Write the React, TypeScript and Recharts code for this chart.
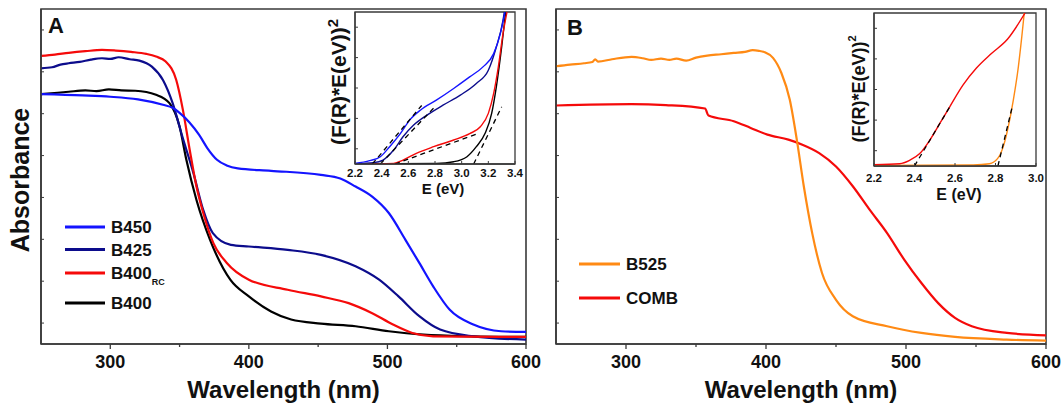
import React from 'react'
import { LineChart, Line, XAxis, YAxis, ReferenceArea } from 'recharts'

const FONT = '"Liberation Sans", Arial, Helvetica, sans-serif'
const AXIS = '#3a3a3a'
const INK = '#111'

const BLUE = '#1414ff'
const NAVY = '#0c0c8c'
const RED = '#f50a0a'
const BLACK = '#000'
const ORANGE = '#ff8a14'

// panel A: wavelength (nm) vs absorbance (a.u.)
const b450: [number, number][] = [
  [250, 0.746], [280, 0.742], [300, 0.738], [320, 0.73], [338, 0.714], [345, 0.705], [350, 0.69],
  [357, 0.662], [364, 0.625], [370, 0.585], [377, 0.55], [384, 0.533], [392, 0.524], [416, 0.517],
  [452, 0.505], [466, 0.494], [477, 0.47], [489, 0.44], [501, 0.391], [513, 0.311], [523, 0.242],
  [533, 0.172], [545, 0.102], [562, 0.058], [582, 0.038], [600, 0.036],
]
const b425: [number, number][] = [
  [250, 0.823], [258, 0.826], [264, 0.834], [270, 0.838], [278, 0.842], [286, 0.849], [294, 0.853],
  [300, 0.851], [306, 0.856], [314, 0.85], [321, 0.846], [330, 0.828], [338, 0.788], [345, 0.719],
  [352, 0.619], [360, 0.51], [367, 0.401], [374, 0.331], [387, 0.296], [400, 0.291], [428, 0.281],
  [452, 0.266], [477, 0.232], [494, 0.192], [508, 0.142], [523, 0.083], [538, 0.043], [562, 0.023],
  [600, 0.013],
]
const b400rc: [number, number][] = [
  [250, 0.86], [260, 0.864], [270, 0.869], [282, 0.874], [294, 0.878], [304, 0.876], [315, 0.872],
  [326, 0.866], [333, 0.858], [340, 0.843], [347.6, 0.788], [352.4, 0.699], [357.3, 0.58],
  [362.2, 0.47], [367.1, 0.391], [374.4, 0.301], [384.1, 0.242], [400, 0.192], [428, 0.162],
  [452, 0.142], [472, 0.122], [489, 0.092], [504, 0.058], [518, 0.033], [533, 0.023], [600, 0.021],
]
const b400: [number, number][] = [
  [250, 0.746], [262, 0.75], [270, 0.753], [282, 0.757], [290, 0.755], [299, 0.76], [308, 0.757],
  [318, 0.756], [333, 0.744], [342.7, 0.719], [350, 0.649], [354.9, 0.55], [362.2, 0.43],
  [372, 0.311], [386.6, 0.192], [400, 0.142], [416, 0.097], [430.5, 0.073], [452, 0.061],
  [477, 0.053], [501, 0.038], [526, 0.028], [562, 0.023], [600, 0.021],
]

// panel B
const b525: [number, number][] = [
  [250, 0.829], [260, 0.834], [270, 0.838], [276, 0.842], [278, 0.85], [280, 0.843], [290, 0.85],
  [304, 0.857], [312, 0.853], [318, 0.848], [325, 0.852], [331, 0.848], [336, 0.852], [343, 0.846],
  [350, 0.855], [358, 0.861], [368, 0.865], [377, 0.869], [385, 0.872], [390.5, 0.877], [395, 0.875],
  [399, 0.871], [405, 0.854], [411, 0.809], [417, 0.729], [422, 0.61], [427, 0.471], [433, 0.331],
  [440, 0.212], [450, 0.132], [462, 0.083], [486.5, 0.053], [511, 0.033], [535, 0.021], [572, 0.013],
  [600, 0.01],
]
const comb: [number, number][] = [
  [250, 0.712], [304, 0.716], [328.5, 0.713], [356.5, 0.703], [358.9, 0.682], [377, 0.665],
  [389, 0.645], [401, 0.625], [416, 0.61], [426, 0.595], [438, 0.57], [450, 0.53], [462, 0.471],
  [474, 0.401], [486.5, 0.331], [498.7, 0.252], [511, 0.182], [523, 0.122], [535, 0.078],
  [547, 0.053], [572, 0.033], [600, 0.026],
]

// inset A: E (eV) vs (F(R)*E)^2
const tB450: [number, number][] = [
  [2.2, 0.004], [2.31, 0.022], [2.39, 0.048], [2.46, 0.114], [2.54, 0.2], [2.61, 0.289],
  [2.69, 0.354], [2.81, 0.42], [2.94, 0.497], [3.06, 0.573], [3.16, 0.639], [3.24, 0.726],
  [3.29, 0.858], [3.325, 1.0],
]
const tB425: [number, number][] = [
  [2.2, 0.002], [2.34, 0.009], [2.41, 0.026], [2.49, 0.092], [2.56, 0.179], [2.64, 0.256],
  [2.74, 0.322], [2.86, 0.387], [2.99, 0.453], [3.11, 0.53], [3.2, 0.617], [3.26, 0.77],
  [3.31, 0.945], [3.32, 1.0],
]
const tB400rc: [number, number][] = [
  [2.2, 0], [2.49, 0.004], [2.56, 0.026], [2.66, 0.07], [2.79, 0.114], [2.94, 0.158], [3.06, 0.2],
  [3.14, 0.245], [3.2, 0.333], [3.24, 0.464], [3.275, 0.639], [3.31, 0.858], [3.34, 1.0],
]
const tB400: [number, number][] = [
  [2.2, 0], [2.81, 0.004], [2.94, 0.015], [3.04, 0.048], [3.11, 0.114], [3.175, 0.2],
  [3.225, 0.333], [3.26, 0.508], [3.3, 0.77], [3.33, 1.0],
]
const fitA: [number, number][][] = [
  [[2.33, 0], [2.7, 0.385]],
  [[2.39, 0], [2.8, 0.377]],
  [[2.5, 0], [3.12, 0.2]],
  [[3.09, 0], [3.3, 0.376]],
]

// inset B
const tB525: [number, number][] = [
  [2.2, 0.004], [2.69, 0.007], [2.77, 0.015], [2.81, 0.048], [2.838, 0.125], [2.863, 0.256],
  [2.888, 0.431], [2.913, 0.65], [2.93, 0.847], [2.942, 1.0],
]
const tComb: [number, number][] = [
  [2.2, 0.009], [2.327, 0.015], [2.376, 0.037], [2.426, 0.081], [2.475, 0.168], [2.525, 0.278],
  [2.574, 0.387], [2.64, 0.53], [2.706, 0.64], [2.78, 0.735], [2.86, 0.83], [2.946, 1.0],
]
const fitB: [number, number][][] = [
  [[2.4, 0], [2.574, 0.387]],
  [[2.812, 0], [2.885, 0.4]],
]

const wlTicks = [300, 350, 400, 450, 500, 550, 600]
const absTicks = [0.0625, 0.125, 0.1875, 0.25, 0.3125, 0.375, 0.4375, 0.5, 0.5625, 0.625, 0.6875, 0.75, 0.8125, 0.875, 0.9375]
const eTicksA = [2.2, 2.4, 2.6, 2.8, 3.0, 3.2, 3.4]
const eTicksB = [2.2, 2.4, 2.6, 2.8, 3.0]
const insTicks = [0.1, 0.2, 0.3, 0.4, 0.5, 0.6, 0.7, 0.8, 0.9]

const rows = (p: [number, number][]) => p.map(([x, y]) => ({ x, y }))

const WlTick = (p: any) => {
  const v = p.payload.value
  const major = v % 100 === 0
  return (
    <g>
      <line x1={p.x} x2={p.x} y1={p.y} y2={p.y + (major ? 5 : 3)} stroke={AXIS} strokeWidth={1.3} />
      {major && (
        <text x={p.x} y={p.y + 24} textAnchor="middle" fontFamily={FONT} fontWeight="bold" fontSize={18} fill={INK}>
          {v}
        </text>
      )}
    </g>
  )
}

const InTick = (p: any) => <line x1={p.x} x2={p.x + 3} y1={p.y} y2={p.y} stroke={AXIS} strokeWidth={1} />

const eTick = (off: number) => (p: any) => (
  <g>
    <line x1={p.x} x2={p.x} y1={p.y} y2={p.y - 3} stroke={AXIS} strokeWidth={1} />
    <text x={p.x} y={p.y + off} textAnchor="middle" fontFamily={FONT} fontWeight="bold" fontSize={11.5} fill={INK}>
      {Number(p.payload.value).toFixed(1)}
    </text>
  </g>
)

interface Series { pts: [number, number][]; color: string; dashed?: boolean }

function MainPanel({ left, width, yw, mr, series, showY }: { left: number; width: number; yw: number; mr: number; series: Series[]; showY: boolean }) {
  return (
    <div style={{ position: 'absolute', left, top: 0 }}>
      <LineChart width={width} height={405} margin={{ top: 9, right: mr, bottom: 0, left: 0 }}>
        <XAxis dataKey="x" type="number" domain={[250, 600]} ticks={wlTicks} allowDataOverflow
          height={61} tickSize={0} tickMargin={0} tickLine={false} tick={WlTick}
          axisLine={{ stroke: AXIS, strokeWidth: 1.6 }}
          label={{
            content: (p: any) => (
              <text x={p.viewBox.x + p.viewBox.width / 2} y={398} textAnchor="middle" fontFamily={FONT}
                fontWeight="bold" fontSize={24} fill={INK}>Wavelength (nm)</text>
            ),
          }} />
        <YAxis type="number" domain={[0, 1]} ticks={absTicks} allowDataOverflow width={yw}
          tickSize={0} tickMargin={0} tickLine={false} tick={InTick}
          axisLine={{ stroke: AXIS, strokeWidth: 1.6 }}
          label={showY ? {
            content: () => (
              <text transform="translate(29,180) rotate(-90)" textAnchor="middle" fontFamily={FONT}
                fontWeight="bold" fontSize={25} fill={INK}>Absorbance</text>
            ),
          } : undefined} />
        <ReferenceArea x1={250} x2={600} y1={0} y2={1} fill="none" stroke={AXIS} strokeWidth={1.6} />
        {series.map((s, i) => (
          <Line key={i} data={rows(s.pts)} dataKey="y" type="monotone" stroke={s.color} strokeWidth={2.2}
            dot={false} isAnimationActive={false} />
        ))}
      </LineChart>
    </div>
  )
}

function Inset({ left, width, height, yw, mt, mr, domain, ticks, tickOff, series, title, eX, eBase }: any) {
  return (
    <div style={{ position: 'absolute', left, top: 0 }}>
      <LineChart width={width} height={height} margin={{ top: mt, right: mr, bottom: 0, left: 0 }}>
        <XAxis dataKey="x" type="number" domain={domain} ticks={ticks} allowDataOverflow
          height={title.xh} tickSize={0} tickMargin={0} tickLine={false} tick={eTick(tickOff)}
          axisLine={{ stroke: AXIS, strokeWidth: 1.3 }}
          label={{
            content: () => (
              <text x={eX} y={eBase} textAnchor="middle" fontFamily={FONT} fontWeight="bold"
                fontSize={title.eSize} fill={INK}>E (eV)</text>
            ),
          }} />
        <YAxis type="number" domain={[0, 1]} ticks={insTicks} allowDataOverflow width={yw}
          tickSize={0} tickMargin={0} tickLine={false} tick={InTick}
          axisLine={{ stroke: AXIS, strokeWidth: 1.3 }}
          label={{
            content: () => (
              <text transform={`translate(${title.bx},${title.cy}) rotate(-90)`} textAnchor="middle"
                fontFamily={FONT} fontWeight="bold" fontSize={title.size} fill={INK}>
                (F(R)*E(eV))<tspan dy={title.supDy} fontSize={title.supSize}>2</tspan>
              </text>
            ),
          }} />
        <ReferenceArea x1={domain[0]} x2={domain[1]} y1={0} y2={1} fill="none" stroke={AXIS} strokeWidth={1.3} />
        {series.map((s: Series, i: number) => (
          <Line key={i} data={rows(s.pts)} dataKey="y" type={s.dashed ? 'linear' : 'monotone'} stroke={s.color}
            strokeWidth={s.dashed ? 1.3 : 1.4} strokeDasharray={s.dashed ? '5 4' : undefined}
            dot={false} isAnimationActive={false} />
        ))}
      </LineChart>
    </div>
  )
}

const legendA = [
  { label: 'B450', sub: '', color: BLUE, y: 227 },
  { label: 'B425', sub: '', color: NAVY, y: 249.5 },
  { label: 'B400', sub: 'RC', color: RED, y: 273 },
  { label: 'B400', sub: '', color: BLACK, y: 303 },
]
const legendB = [
  { label: 'B525', sub: '', color: ORANGE, y: 264 },
  { label: 'COMB', sub: '', color: RED, y: 298 },
]

export default function App() {
  const txt = { fontFamily: FONT, fontWeight: 'bold' as const, fill: INK }
  return (
    <div style={{ position: 'absolute', left: 0, top: 0, width: 1064, height: 405, background: '#fff', overflow: 'hidden' }}>
      <MainPanel left={0} width={560} yw={41} mr={34} showY
        series={[
          { pts: b400, color: BLACK }, { pts: b425, color: NAVY },
          { pts: b400rc, color: RED }, { pts: b450, color: BLUE },
        ]} />
      <MainPanel left={530} width={534} yw={26} mr={18} showY={false}
        series={[{ pts: comb, color: RED }, { pts: b525, color: ORANGE }]} />

      <Inset left={300} width={230} height={200} yw={55} mt={12} mr={15} domain={[2.2, 3.4]}
        ticks={eTicksA} tickOff={12.5} eX={143} eBase={194}
        title={{ xh: 36, bx: 46, cy: 82, size: 21, supDy: -8, supSize: 15, eSize: 15 }}
        series={[
          { pts: tB400, color: BLACK }, { pts: tB400rc, color: RED },
          { pts: tB425, color: NAVY }, { pts: tB450, color: BLUE },
          ...fitA.map(f => ({ pts: f, color: BLACK, dashed: true })),
        ]} />
      <Inset left={820} width={230} height={210} yw={54} mt={13} mr={14} domain={[2.2, 3.0]}
        ticks={eTicksB} tickOff={16} eX={139} eBase={199.5}
        title={{ xh: 44, bx: 45, cy: 89, size: 18, supDy: -9, supSize: 11, eSize: 16 }}
        series={[
          { pts: tB525, color: ORANGE }, { pts: tComb, color: RED },
          ...fitB.map(f => ({ pts: f, color: BLACK, dashed: true })),
        ]} />

      <svg width={1064} height={405} style={{ position: 'absolute', left: 0, top: 0, pointerEvents: 'none' }}>
        <text x={48} y={33} fontSize={22} {...txt}>A</text>
        <text x={567} y={35} fontSize={22} {...txt}>B</text>
        {legendA.map((l, i) => (
          <g key={i}>
            <line x1={65} x2={105} y1={l.y} y2={l.y} stroke={l.color} strokeWidth={3} />
            <text x={111} y={l.y + 6} fontSize={17} {...txt}>
              {l.label}{l.sub && <tspan dy={6} fontSize={9}>{l.sub}</tspan>}
            </text>
          </g>
        ))}
        {legendB.map((l, i) => (
          <g key={i}>
            <line x1={579} x2={620} y1={l.y} y2={l.y} stroke={l.color} strokeWidth={3} />
            <text x={626} y={l.y + 6} fontSize={17} {...txt}>{l.label}</text>
          </g>
        ))}
      </svg>
    </div>
  )
}
